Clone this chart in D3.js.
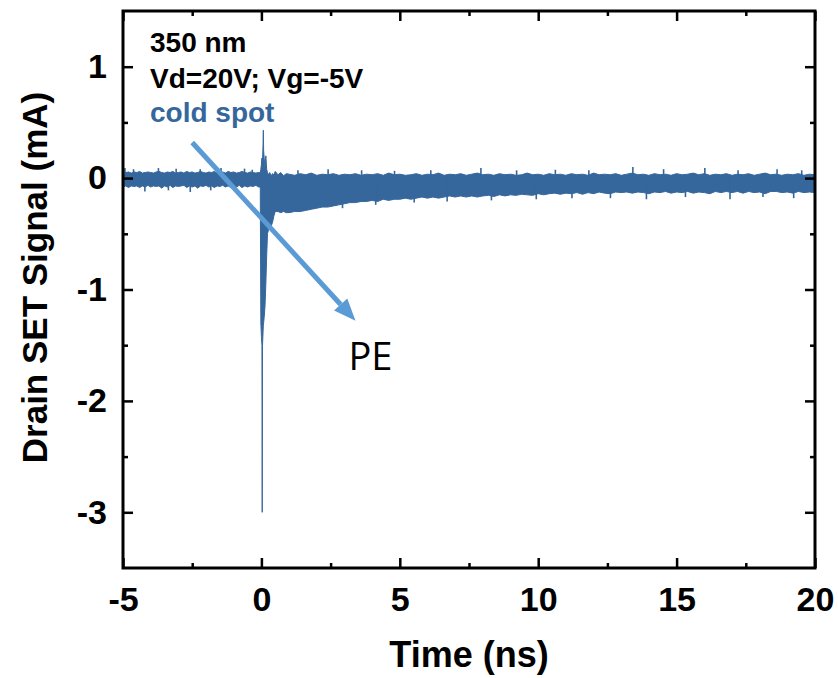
<!DOCTYPE html>
<html lang="en">
<head>
<meta charset="UTF-8">
<title>Drain SET Signal</title>
<script src="https://d3js.org/d3.v7.min.js"></script>
<style>
  body { margin: 0; background: #fff; }
  svg text { font-family: "Liberation Sans", Arial, sans-serif; }
</style>
</head>
<body>
<div id="chart"></div>
<script>
// envelope of the scope trace (mA)
const preStart = -5.0, preStep = 0.1;
const preUpper = [
  0.060, 0.050, 0.055, 0.045, 0.055, 0.050, 0.060, 0.045, 0.050, 0.055,
  0.050, 0.045, 0.055, 0.060, 0.050, 0.045, 0.055, 0.050, 0.060, 0.045,
  0.050, 0.055, 0.045, 0.060, 0.050, 0.055, 0.045, 0.050, 0.060, 0.050,
  0.045, 0.055, 0.050, 0.060, 0.045, 0.050, 0.055, 0.045, 0.060, 0.050,
  0.055, 0.045, 0.050, 0.060, 0.050, 0.045, 0.055, 0.050, 0.045, 0.050
];
const preLower = [
  -0.080, -0.070, -0.085, -0.070, -0.075, -0.070, -0.085, -0.070, -0.080, -0.065,
  -0.080, -0.070, -0.075, -0.070, -0.090, -0.070, -0.080, -0.065, -0.085, -0.070,
  -0.075, -0.070, -0.065, -0.085, -0.070, -0.080, -0.070, -0.090, -0.070, -0.075,
  -0.065, -0.080, -0.070, -0.085, -0.070, -0.075, -0.065, -0.080, -0.070, -0.085,
  -0.070, -0.080, -0.065, -0.085, -0.070, -0.080, -0.070, -0.075, -0.065, -0.080
];

const spikeTimes = [-0.04, -0.02, 0, 0.02, 0.03, 0.04, 0.06, 0.07, 0.08, 0.10, 0.13, 0.16,
  0.19, 0.22, 0.26, 0.30, 0.35, 0.40, 0.45, 0.50, 0.60, 0.70, 0.80, 0.90];
const spikeUpper = [0.05, 0.08, 0.12, 0.18, 0.10, 0.15, 0.30, 0.43, 0.25, 0.18, 0.09, 0.20,
  0.08, 0.05, 0.03, 0.05, 0.02, 0.04, 0.03, 0.06, 0.03, 0.05, 0.02, 0.04];
const spikeLower = [-0.08, -1.30, -1.42, -1.50, -3.00, -1.50, -1.38, -1.32, -1.30, -1.25, -1.15, -0.95,
  -0.70, -0.50, -0.46, -0.44, -0.43, -0.40, -0.34, -0.30, -0.30, -0.31, -0.30, -0.31];

const postStart = 1.0, postStep = 0.2;
const postUpper = [
  0.035, 0.025, 0.040, 0.030, 0.045, 0.025, 0.035, 0.030, 0.040, 0.025,
  0.035, 0.030, 0.040, 0.025, 0.035, 0.030, 0.040, 0.025, 0.045, 0.030,
  0.035, 0.025, 0.030, 0.040, 0.025, 0.035, 0.030, 0.045, 0.025, 0.035,
  0.030, 0.040, 0.025, 0.035, 0.045, 0.030, 0.035, 0.025, 0.040, 0.030,
  0.035, 0.025, 0.030, 0.045, 0.030, 0.035, 0.025, 0.040, 0.030, 0.035,
  0.025, 0.040, 0.030, 0.035, 0.025, 0.045, 0.030, 0.035, 0.030, 0.040,
  0.025, 0.035, 0.045, 0.030, 0.035, 0.025, 0.040, 0.030, 0.035, 0.025,
  0.040, 0.030, 0.035, 0.045, 0.030, 0.040, 0.025, 0.035, 0.030, 0.040,
  0.025, 0.035, 0.030, 0.040, 0.025, 0.035, 0.045, 0.030, 0.035, 0.025,
  0.035, 0.030, 0.040, 0.025, 0.035, 0.030
];
const postLower = [
  -0.31, -0.30, -0.30, -0.29, -0.28, -0.27, -0.26, -0.26, -0.25, -0.24,
  -0.23, -0.22, -0.22, -0.21, -0.21, -0.20, -0.21, -0.19, -0.20, -0.19,
  -0.19, -0.18, -0.19, -0.18, -0.17, -0.18, -0.17, -0.18, -0.17, -0.16,
  -0.17, -0.16, -0.17, -0.16, -0.17, -0.16, -0.155, -0.165, -0.15, -0.16,
  -0.15, -0.155, -0.145, -0.15, -0.155, -0.14, -0.15, -0.14, -0.135, -0.145,
  -0.135, -0.14, -0.13, -0.145, -0.13, -0.14, -0.125, -0.135, -0.14, -0.125,
  -0.13, -0.125, -0.135, -0.125, -0.13, -0.14, -0.125, -0.13, -0.12, -0.135,
  -0.125, -0.13, -0.12, -0.135, -0.125, -0.13, -0.14, -0.12, -0.13, -0.12,
  -0.13, -0.12, -0.135, -0.12, -0.13, -0.125, -0.14, -0.12, -0.12, -0.13,
  -0.125, -0.135, -0.12, -0.13, -0.125, -0.13
];

// isolated noise excursions beyond the band: [ns, mA]
const noisePeaks = [
  [-4.93, 0.09], [-4.62, 0.08], [-4.21, -0.12], [-3.72, 0.09], [-3.36, -0.11], [-3.08, 0.085],
  [-2.57, -0.125], [-2.21, 0.08], [-1.83, -0.11], [-1.46, 0.09], [-0.93, -0.115], [-0.61, 0.085],
  [-0.33, 0.075], [1.32, 0.07], [2.41, 0.08], [2.93, -0.27], [3.62, 0.07], [4.13, -0.24],
  [4.81, 0.065], [5.52, -0.22], [6.12, 0.07], [6.71, -0.21], [7.93, 0.09], [8.31, -0.2],
  [9.22, 0.07], [9.93, -0.19], [10.62, 0.075], [11.22, -0.18], [11.83, 0.07], [12.61, -0.18],
  [13.42, 0.1], [13.91, -0.19], [14.53, 0.08], [15.32, -0.17], [16.02, 0.09], [16.93, -0.19],
  [17.22, 0.07], [18.12, -0.17], [18.63, 0.08], [19.23, -0.18], [19.52, 0.07]
];

const xTicks = [-5, 0, 5, 10, 15, 20];
const xMinor = [-2.5, 2.5, 7.5, 12.5, 17.5];
const yTicks = [-3, -2, -1, 0, 1];
const yMinor = [-2.5, -1.5, -0.5, 0.5];
const infoLines = ["350 nm", "Vd=20V; Vg=-5V"];
const seriesLabel = "cold spot";
const arrowFrom = [-2.5, 0.32];   // [ns, mA]
const arrowTo = [3.4, -1.28];
const arrowLabel = "PE";

const width = 838, height = 678;
const margin = { top: 11, right: 23, bottom: 110, left: 123 };
const w = width - margin.left - margin.right;
const h = height - margin.top - margin.bottom;

const traceColor = "#35679c";
const arrowColor = "#5b9bd5";

const trace = [];
preUpper.forEach((u, i) => trace.push({ t: preStart + i * preStep, hi: u, lo: preLower[i] }));
spikeTimes.forEach((t, i) => trace.push({ t: t, hi: spikeUpper[i], lo: spikeLower[i] }));
postUpper.forEach((u, i) => trace.push({ t: postStart + i * postStep, hi: u, lo: postLower[i] }));

const svg = d3.select("#chart").append("svg")
  .attr("width", width)
  .attr("height", height);

const g = svg.append("g")
  .attr("transform", `translate(${margin.left},${margin.top})`);

const x = d3.scaleLinear().domain([-5, 20]).range([0, w]);
const y = d3.scaleLinear().domain([-3.5, 1.5]).range([h, 0]);

g.append("clipPath").attr("id", "plot-clip")
  .append("rect").attr("width", w).attr("height", h);

const plot = g.append("g").attr("clip-path", "url(#plot-clip)");

// trace
const area = d3.area()
  .x(d => x(d.t))
  .y0(d => y(d.lo))
  .y1(d => y(d.hi));

plot.append("path")
  .datum(trace)
  .attr("d", area)
  .attr("fill", traceColor)
  .attr("stroke", traceColor)
  .attr("stroke-width", 1)
  .attr("stroke-linejoin", "round");

plot.selectAll(".peak")
  .data(noisePeaks)
  .join("line")
  .attr("class", "peak")
  .attr("x1", d => x(d[0])).attr("x2", d => x(d[0]))
  .attr("y1", y(0)).attr("y2", d => y(d[1]))
  .attr("stroke", traceColor)
  .attr("stroke-width", 1.6);

// axes, ticks pointing inwards on all four sides
function styleAxis(sel) {
  sel.select(".domain").remove();
  sel.selectAll(".tick line").attr("stroke", "#000").attr("stroke-width", 2.5);
  sel.selectAll(".tick text")
    .attr("fill", "#000")
    .style("font-size", "34px")
    .style("font-weight", "bold");
}
const fmt = d => String(d);

g.append("g").attr("transform", `translate(0,${h})`)
  .call(d3.axisBottom(x).tickValues(xTicks).tickSizeInner(-10).tickSizeOuter(0).tickPadding(19).tickFormat(fmt))
  .call(styleAxis);
g.append("g").attr("transform", `translate(0,${h})`)
  .call(d3.axisBottom(x).tickValues(xMinor).tickSizeInner(-5).tickSizeOuter(0).tickFormat(""))
  .call(styleAxis);
g.append("g")
  .call(d3.axisTop(x).tickValues(xTicks).tickSizeInner(-10).tickSizeOuter(0).tickFormat(""))
  .call(styleAxis);
g.append("g")
  .call(d3.axisTop(x).tickValues(xMinor).tickSizeInner(-5).tickSizeOuter(0).tickFormat(""))
  .call(styleAxis);

g.append("g")
  .call(d3.axisLeft(y).tickValues(yTicks).tickSizeInner(-10).tickSizeOuter(0).tickPadding(16).tickFormat(fmt))
  .call(styleAxis);
g.append("g")
  .call(d3.axisLeft(y).tickValues(yMinor).tickSizeInner(-5).tickSizeOuter(0).tickFormat(""))
  .call(styleAxis);
g.append("g").attr("transform", `translate(${w},0)`)
  .call(d3.axisRight(y).tickValues(yTicks).tickSizeInner(-10).tickSizeOuter(0).tickFormat(""))
  .call(styleAxis);
g.append("g").attr("transform", `translate(${w},0)`)
  .call(d3.axisRight(y).tickValues(yMinor).tickSizeInner(-5).tickSizeOuter(0).tickFormat(""))
  .call(styleAxis);

// frame
g.append("rect")
  .attr("width", w)
  .attr("height", h)
  .attr("fill", "none")
  .attr("stroke", "#000")
  .attr("stroke-width", 3);

// axis titles
svg.append("text")
  .attr("x", margin.left + w / 2)
  .attr("y", 667)
  .attr("text-anchor", "middle")
  .style("font-size", "36px")
  .style("font-weight", "bold")
  .text("Time (ns)");

svg.append("text")
  .attr("transform", `translate(47,${margin.top + h / 2 - 12}) rotate(-90)`)
  .attr("text-anchor", "middle")
  .style("font-size", "35px")
  .style("font-weight", "bold")
  .text("Drain SET Signal (mA)");

// annotations
g.selectAll(".info")
  .data(infoLines)
  .join("text")
  .attr("class", "info")
  .attr("x", 27)
  .attr("y", (d, i) => 41 + i * 36)
  .style("font-size", "28px")
  .style("font-weight", "bold")
  .attr("fill", "#000")
  .text(d => d);

g.append("text")
  .attr("x", 27)
  .attr("y", 111)
  .style("font-size", "28px")
  .style("font-weight", "bold")
  .attr("fill", traceColor)
  .text(seriesLabel);

// arrow
const x1 = x(arrowFrom[0]), y1 = y(arrowFrom[1]);
const x2 = x(arrowTo[0]), y2 = y(arrowTo[1]);
const ang = Math.atan2(y2 - y1, x2 - x1);
const headLen = 22, headHalf = 9;
const bx = x2 - headLen * Math.cos(ang), by = y2 - headLen * Math.sin(ang);

g.append("line")
  .attr("x1", x1).attr("y1", y1)
  .attr("x2", bx).attr("y2", by)
  .attr("stroke", arrowColor)
  .attr("stroke-width", 5);

g.append("path")
  .attr("d", d3.line()([
    [x2, y2],
    [bx + headHalf * Math.sin(ang), by - headHalf * Math.cos(ang)],
    [bx - headHalf * Math.sin(ang), by + headHalf * Math.cos(ang)]
  ]) + "Z")
  .attr("fill", arrowColor);

g.append("text")
  .attr("x", x2 - 7)
  .attr("y", y2 + 49)
  .style("font-family", "'Open Sans', 'Noto Sans', sans-serif")
  .style("font-size", "38px")
  .attr("fill", "#000")
  .text(arrowLabel);
</script>
</body>
</html>
